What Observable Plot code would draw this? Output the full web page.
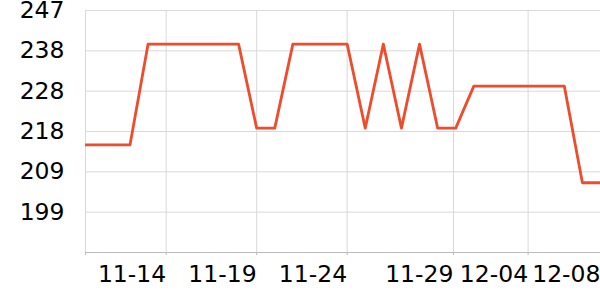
<!DOCTYPE html>
<html>
<head>
<meta charset="utf-8">
<script src="https://cdn.jsdelivr.net/npm/d3@7"></script>
<script src="https://cdn.jsdelivr.net/npm/@observablehq/plot@0.6"></script>
<style>
  html, body { margin: 0; padding: 0; background: #fff; }
</style>
</head>
<body>
<div id="chart"></div>
<script>
// ---- data ----
const dates = [
  "2023-11-09","2023-11-10","2023-11-11","2023-11-12","2023-11-13","2023-11-14",
  "2023-11-15","2023-11-16","2023-11-17","2023-11-18","2023-11-19","2023-11-20",
  "2023-11-21","2023-11-22","2023-11-23","2023-11-24","2023-11-25","2023-11-26",
  "2023-11-27","2023-11-28","2023-11-29","2023-11-30","2023-12-01","2023-12-02",
  "2023-12-03","2023-12-04","2023-12-05","2023-12-06","2023-12-07","2023-12-08"
];
const values = [
  215, 215, 215, 215, 239, 239,
  239, 239, 239, 239, 219, 219,
  239, 239, 239, 239, 219, 239,
  219, 239, 219, 219, 229, 229,
  229, 229, 229, 229, 206, 206
];
const xDomain = ["2023-11-09T13:00Z", "2023-12-08T00:00Z"];
const xTicks = ["2023-11-14", "2023-11-19", "2023-11-24", "2023-11-29T21:00Z", "2023-12-04", "2023-12-08"];
const xTickLabels = ["11-14", "11-19", "11-24", "11-29", "12-04", "12-08"];
const yDomain = [189.4, 247];
const yTicks = [199, 208.6, 218.2, 227.8, 237.4, 247];
const yTickLabels = ["199", "209", "218", "228", "238", "247"];

// ---- build ----
const data = dates.map((d, i) => ({date: new Date(d), value: values[i]}));
const xTickDates = xTicks.map(d => new Date(d));
const xStart = new Date(xDomain[0]);
const xLabelMap = new Map(xTickDates.map((d, i) => [+d, xTickLabels[i]]));
const yLabelMap = new Map(yTicks.map((d, i) => [d, yTickLabels[i]]));

const chart = Plot.plot({
  width: 600,
  height: 300,
  marginLeft: 85,
  marginRight: 0,
  marginTop: 10,
  marginBottom: 48,
  style: {fontFamily: "DejaVu Sans", fontSize: "23.5px", color: "#000", background: "#fff"},
  x: {type: "utc", domain: xDomain.map(d => new Date(d))},
  y: {domain: yDomain},
  marks: [
    Plot.gridY(yTicks, {stroke: "#d9d9d9", strokeOpacity: 1}),
    Plot.gridX([xStart, ...xTickDates.slice(0, 5)], {stroke: "#d9d9d9", strokeOpacity: 1}),
    Plot.ruleY([yDomain[0]], {stroke: "#bbbbbb"}),
    Plot.axisY(yTicks, {tickSize: 0, tickPadding: 21, fontSize: 23.5, label: null, tickFormat: d => yLabelMap.get(d)}),
    Plot.axisX([xStart, ...xTickDates], {
      tickSize: 3, tickPadding: 10, fontSize: 23.5, stroke: "#bbbbbb", label: null,
      textAnchor: "end",
      tickFormat: d => xLabelMap.get(+d) ?? ""
    }),
    Plot.lineY(data, {x: "date", y: "value", stroke: "#ee4c2c", strokeWidth: 2.8, clip: true})
  ]
});
document.getElementById("chart").appendChild(chart);
</script>
</body>
</html>
